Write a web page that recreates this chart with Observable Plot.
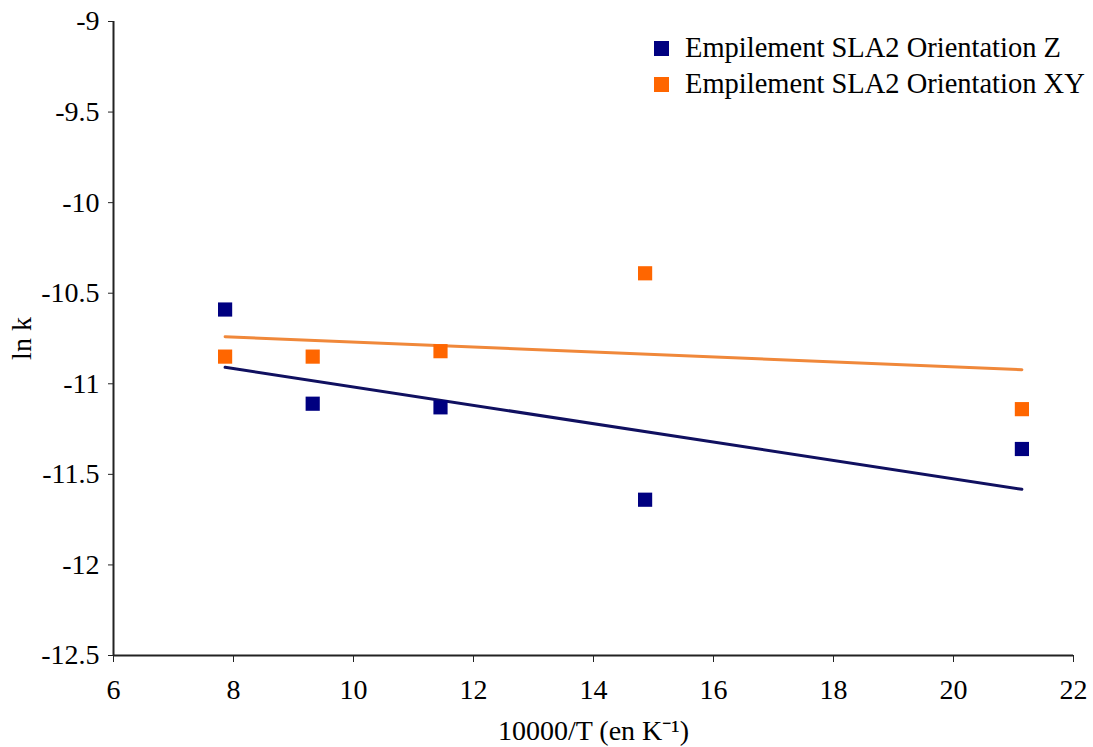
<!DOCTYPE html>
<html><head><meta charset="utf-8">
<script src="https://cdn.jsdelivr.net/npm/d3@7"></script>
<script src="https://cdn.jsdelivr.net/npm/@observablehq/plot@0.6"></script>
<style>
body{margin:0;background:#fff;}
#wrap{position:relative;width:1093px;height:747px;}
#legend{position:absolute;left:654px;top:30px;font-family:"Liberation Serif","Times New Roman",Times,serif;font-size:28.5px;color:#000;}
#legend .row{display:flex;align-items:center;height:36px;}
#legend .sw{width:15px;height:15px;margin-right:16px;}
</style></head>
<body><div id="wrap"></div>
<script>
// 10000/T (K^-1)
const invT = [7.86, 9.32, 11.45, 14.86, 21.14];
// ln k, series "Orientation Z"
const lnkZ = [-10.59, -11.11, -11.13, -11.64, -11.36];
// ln k, series "Orientation XY"
const lnkXY = [-10.85, -10.85, -10.82, -10.39, -11.14];
const seriesNames = ["Empilement SLA2 Orientation Z", "Empilement SLA2 Orientation XY"];
const seriesColors = ["#000080", "#ff6600"];
const trendColors = ["#101060", "#f0883a"];
const xDomain = [6, 22];
const yDomain = [-12.5, -9];
const xTicks = [6, 8, 10, 12, 14, 16, 18, 20, 22];
const yTicks = [-12.5, -12, -11.5, -11, -10.5, -10, -9.5, -9];
const xLabel = "10000/T (en K\u207B\u00B9)";
const yLabel = "ln k";
const serifFont = "'Liberation Serif', 'Times New Roman', Times, serif";

const rows = [];
invT.forEach((x, i) => {
  rows.push({x, y: lnkZ[i], s: seriesNames[0]});
  rows.push({x, y: lnkXY[i], s: seriesNames[1]});
});

const chart = Plot.plot({
  width: 1093,
  height: 747,
  marginLeft: 113,
  marginRight: 20,
  marginTop: 21,
  marginBottom: 92,
  style: {fontFamily: serifFont, fontSize: "28px", background: "#fff", color: "#000"},
  x: {domain: xDomain},
  y: {domain: yDomain},
  color: {domain: seriesNames, range: seriesColors},
  marks: [
    Plot.axisX({ticks: xTicks, tickSize: 7, tickPadding: 17, tickFormat: d => String(d),
      label: xLabel, labelArrow: "none", labelAnchor: "center", labelOffset: 84, stroke: "#222", fontFamily: serifFont}),
    Plot.axisY({ticks: yTicks, tickSize: 5, tickPadding: 9, tickFormat: d => String(d),
      label: yLabel, labelArrow: "none", labelAnchor: "center", labelOffset: 102, stroke: "#222", fontFamily: serifFont}),
    Plot.ruleX([xDomain[0]], {stroke: "#222", strokeWidth: 2}),
    Plot.ruleY([yDomain[0]], {stroke: "#222", strokeWidth: 2}),
    Plot.linearRegressionY(rows.filter(d => d.s === seriesNames[1]), {x: "x", y: "y", ci: 0, stroke: trendColors[1], strokeWidth: 3}),
    Plot.linearRegressionY(rows.filter(d => d.s === seriesNames[0]), {x: "x", y: "y", ci: 0, stroke: trendColors[0], strokeWidth: 3}),
    Plot.dot(rows, {x: "x", y: "y", fill: "s", symbol: "square", r: 8})
  ]
});

const wrap = document.getElementById("wrap");
wrap.appendChild(chart);
const legend = document.createElement("div");
legend.id = "legend";
seriesNames.forEach((n, i) => {
  const r = document.createElement("div");
  r.className = "row";
  const sw = document.createElement("div");
  sw.className = "sw";
  sw.style.background = seriesColors[i];
  const t = document.createElement("span");
  t.textContent = n;
  r.appendChild(sw); r.appendChild(t);
  legend.appendChild(r);
});
wrap.appendChild(legend);
</script>
</body></html>
